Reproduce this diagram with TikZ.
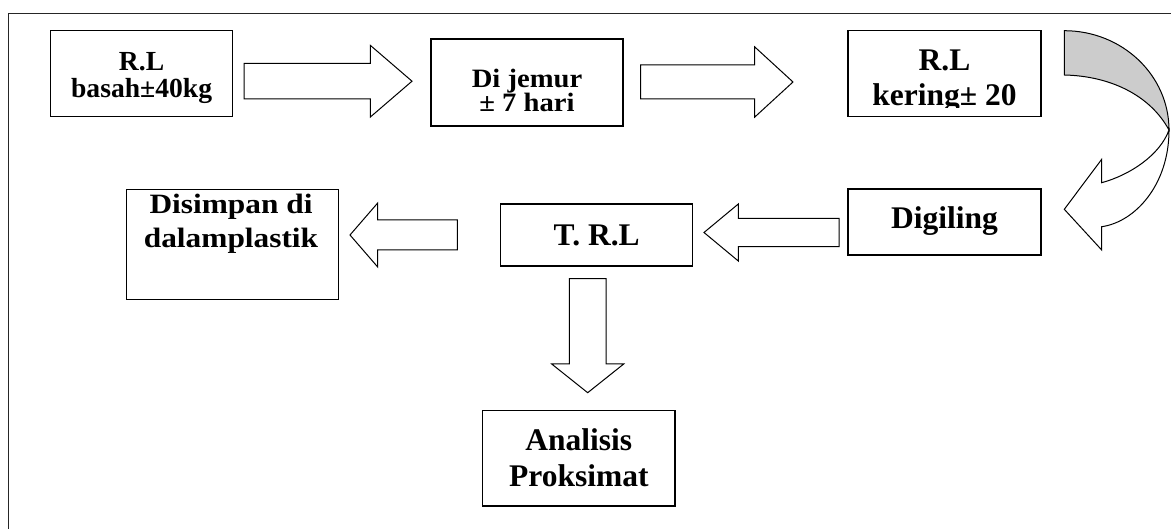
\documentclass[tikz,border=0pt]{standalone}
\usepackage{fontspec}
\setmainfont{Liberation Serif}
\usetikzlibrary{calc}

\tikzset{
  box/.style={draw, line width=1.4pt, inner sep=0pt},
  lbl/.style={align=center, inner sep=0pt},
  fat/.style={draw, line width=1pt, fill=white, line join=miter},
}
\newcommand{\pxfont}[2]{\fontsize{#1}{#2}\selectfont\lineskiplimit=-100pt\bfseries}
%% block arrow: tail, tip, half shaft, half head, head length
\newcommand{\fatarrow}[5]{%
  \coordinate (#2-base) at ($(#2)!#5!(#1)$);
  \draw[fat] ($(#1)!#3!90:(#2)$) -- ($(#2-base)!#3!-90:(#1)$) -- ($(#2-base)!#4!-90:(#1)$)
    -- (#2) -- ($(#2-base)!#4!90:(#1)$) -- ($(#2-base)!#3!90:(#1)$) -- ($(#1)!#3!-90:(#2)$) -- cycle;
}

\begin{document}
\begin{tikzpicture}[x=1pt, y=-1pt]
\useasboundingbox (0,0) rectangle (1171,529);

%% frame
\draw[line width=1pt, black!85] (1171,14) -- (8.3,14) -- (8.3,529);

%% boxes
\node[box, minimum width=182pt, minimum height=86pt] (basah) at (141.6,73.7) {};
\node[box, minimum width=192pt, minimum height=87pt] (jemur) at (527,82.5) {};
\node[box, minimum width=193pt, minimum height=86pt] (kering) at (944.5,73.7) {};
\node[box, minimum width=193pt, minimum height=66pt] (giling) at (944.5,222) {};
\node[box, minimum width=192pt, minimum height=62pt] (trl) at (596.7,235) {};
\node[box, minimum width=211.6pt, minimum height=110pt] (simpan) at (232.5,244.3) {};
\node[box, minimum width=192.3pt, minimum height=95.3pt] (analisis) at (578.8,458.3) {};

%% box texts
\node[lbl, font=\pxfont{27.6}{26.7}] (basah-t) at (141.6,78.2) {R.L\\basah±40kg};
\node[lbl, font=\pxfont{26.5}{24}\addfontfeature{FakeStretch=1.08}] (jemur-t) at (527,90.5) {Di jemur\\± 7 hari};
\begin{scope}
  \clip (848,30.7) rectangle (1041,107.5);
  \node[lbl, font=\pxfont{31.5}{35}] (kering-t) at (944.5,81.5) {R.L\\kering± 20};
\end{scope}
\node[lbl, font=\pxfont{31.5}{31.5}] (giling-t) at (944.5,221.5) {Digiling};
\node[lbl, font=\pxfont{31.5}{31.5}] (trl-t) at (596.7,235.6) {T. R.L};
\node[lbl, font=\pxfont{28}{34.4}\addfontfeature{FakeStretch=1.12}] (simpan-t) at (231,223.5) {Disimpan di\\dalamplastik};
\node[lbl, font=\pxfont{31.5}{36}] (analisis-t) at (578.8,458.2) {Analisis\\Proksimat};

%% arrow ends
\coordinate (s1) at (244,81.2);   \coordinate (e1) at (412,81.2);   %% basah -> jemur
\coordinate (s2) at (640.7,82);   \coordinate (e2) at (793,82);     %% jemur -> kering
\coordinate (s3) at (839,232.5);  \coordinate (e3) at (704,232.5);  %% giling -> trl
\coordinate (s4) at (457.3,235);  \coordinate (e4) at (350,235);    %% trl -> simpan
\coordinate (s5) at (587.7,278.7); \coordinate (e5) at (587.7,392.7); %% trl -> analisis

%% block arrows
\fatarrow{s1}{e1}{17.8pt}{35.8pt}{41.6pt}
\fatarrow{s2}{e2}{17pt}{35.3pt}{38.5pt}
\fatarrow{s3}{e3}{14.2pt}{28.5pt}{34.3pt}
\fatarrow{s4}{e4}{15pt}{32pt}{27.7pt}
\fatarrow{s5}{e5}{18.3pt}{36pt}{28.7pt}

%% curved arrow kering -> giling
\filldraw[fill=gray!40, line width=1pt] (1064.3,30.7) arc[start angle=90, end angle=0, x radius=104.7pt, y radius=99.3pt]
  .. controls (1150,95) and (1110,76) .. (1064.3,75) -- cycle;
\filldraw[fill=white, line width=1pt] (1169,130) .. controls (1169,185) and (1135,222) .. (1101.7,226.7)
  -- (1101.7,250) -- (1064.3,209.3) -- (1101.7,159.3) -- (1101.7,182.7)
  .. controls (1130,175) and (1160,155) .. (1169,130) -- cycle;
\end{tikzpicture}
\end{document}
